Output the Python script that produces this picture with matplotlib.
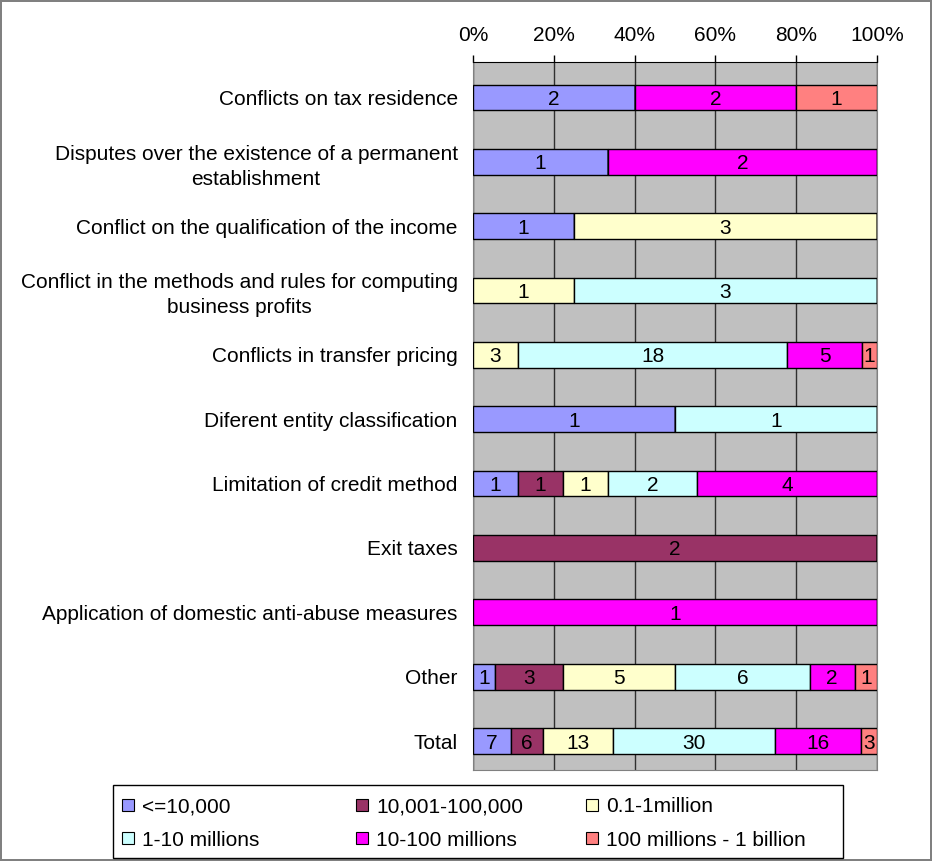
import matplotlib.pyplot as plt
from matplotlib.patches import Rectangle

plt.rcParams['font.family'] = ['Liberation Sans', 'DejaVu Sans']

# Categories (top to bottom)
categories = [
    "Conflicts on tax residence",
    "Disputes over the existence of a permanent\nestablishment",
    "Conflict on the qualification of the income",
    "Conflict in the methods and rules for computing\nbusiness profits",
    "Conflicts in transfer pricing",
    "Diferent entity classification",
    "Limitation of credit method",
    "Exit taxes",
    "Application of domestic anti-abuse measures",
    "Other",
    "Total",
]

series_names = ["<=10,000", "10,001-100,000", "0.1-1million",
                "1-10 millions", "10-100 millions", "100 millions - 1 billion"]
colors = ["#9999FF", "#993366", "#FFFFCC", "#CCFFFF", "#FF00FF", "#FF8080"]

# counts per category for each series
s_10k = [2, 1, 1, 0, 0, 1, 1, 0, 0, 1, 7]
s_100k = [0, 0, 0, 0, 0, 0, 1, 2, 0, 3, 6]
s_1m = [0, 0, 3, 1, 3, 0, 1, 0, 0, 5, 13]
s_10m = [0, 0, 0, 3, 18, 1, 2, 0, 0, 6, 30]
s_100m = [2, 2, 0, 0, 5, 0, 4, 0, 1, 2, 16]
s_1b = [1, 0, 0, 0, 1, 0, 0, 0, 0, 1, 3]
series = [s_10k, s_100k, s_1m, s_10m, s_100m, s_1b]

totals = [sum(v) for v in zip(*series)]
FS = 15

fig = plt.figure(figsize=(9.32, 8.61), dpi=100)
fig.patch.set_edgecolor("#808080")
fig.patch.set_linewidth(1.5)
ax = fig.add_axes([0.5075, 0.1057, 0.4335, 0.8223])
ax.set_facecolor("#C0C0C0")

y = list(range(len(categories)))
left = [0.0] * len(categories)
for name, vals, col in zip(series_names, series, colors):
    pct = [v / t * 100 for v, t in zip(vals, totals)]
    ax.barh(y, pct, left=left, height=0.4, color=col, edgecolor="black",
            linewidth=1.0, zorder=3)
    for i, (v, p) in enumerate(zip(vals, pct)):
        if v > 0:
            ax.text(left[i] + p / 2, i, str(v), ha="center", va="center_baseline",
                    fontsize=FS, zorder=4)
    left = [l + p for l, p in zip(left, pct)]

ax.set_xlim(0, 100)
ax.set_ylim(10.45, -0.55)
ax.set_xticks([0, 20, 40, 60, 80, 100])
ax.set_xticklabels(["0%", "20%", "40%", "60%", "80%", "100%"], fontsize=FS)
ax.xaxis.tick_top()
ax.tick_params(axis="x", direction="out", length=5, width=1, pad=7)
ax.set_yticks(y)
ax.set_yticklabels(categories, fontsize=FS, multialignment="center", linespacing=1.4)
ax.tick_params(axis="y", length=0, pad=11)
ax.grid(axis="x", color="#303030", linewidth=1, zorder=1)
for s in ["right", "bottom", "left"]:
    ax.spines[s].set_color("#808080")
ax.spines["top"].set_color("black")

# legend drawn by hand, row by row, equal column widths
W, H = 932.0, 861.0
fig.patches.append(Rectangle((113 / W, 1 - 858 / H), 730 / W, 73 / H,
                             transform=fig.transFigure, facecolor="white",
                             edgecolor="black", linewidth=1))
col_x = [122, 356, 586]
row_y = [805, 838]
for k, (name, col) in enumerate(zip(series_names, colors)):
    cx = col_x[k % 3]
    ry = row_y[k // 3]
    fig.patches.append(Rectangle((cx / W, 1 - (ry + 6) / H), 12 / W, 12 / H,
                                 transform=fig.transFigure, facecolor=col,
                                 edgecolor="black", linewidth=0.8))
    fig.text((cx + 20) / W, 1 - ry / H, name, fontsize=FS, va="center_baseline",
             ha="left")

fig.savefig("out.png", dpi=100)
